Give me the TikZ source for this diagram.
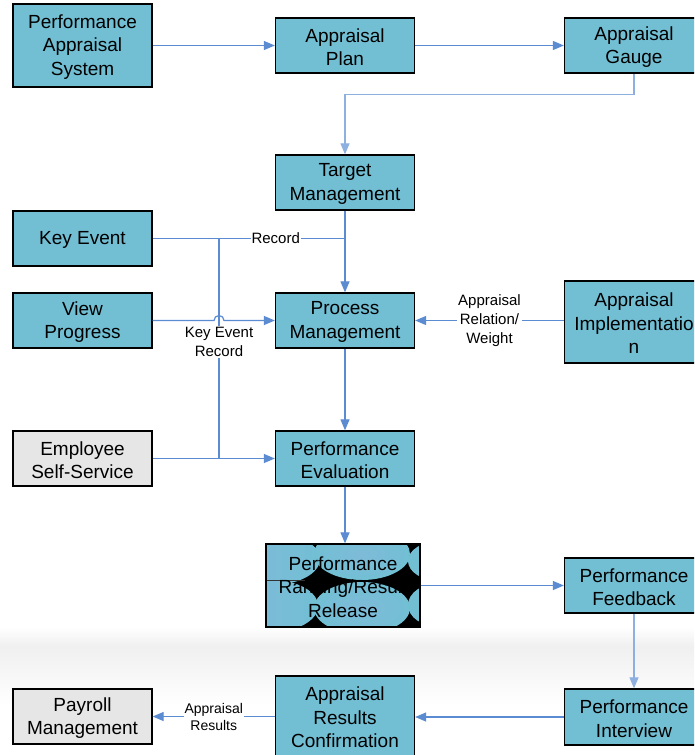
\documentclass[tikz,border=0pt]{standalone}
\usepackage{fontspec}
\setmainfont{Liberation Sans}
\usetikzlibrary{arrows.meta,calc}
\definecolor{boxcyan}{HTML}{72BFD4}
\definecolor{boxlav}{HTML}{95B3E0}
\definecolor{boxgray}{HTML}{E6E6E6}
\definecolor{lineblue}{HTML}{5B8CD1}
\definecolor{lightblue}{HTML}{8DB0E0}
\tikzset{
  box/.style={draw=black, line width=1.3pt, fill=boxcyan, minimum width=139pt, minimum height=55pt,
    inner sep=0pt},
  graybox/.style={box, fill=boxgray},
  boxtxt/.style={align=center, inner sep=0pt, font=\fontsize{19}{23.5}\selectfont, yshift=-1.5pt},
  conn/.style={draw=lineblue, line width=1.2pt},
  arr/.style={conn, -{Triangle[length=11pt,width=9pt]}},
  lbl/.style={fill=white, inner sep=1pt, align=center, font=\fontsize{15}{19}\selectfont},
  lblsmall/.style={lbl, font=\fontsize{14}{17}\selectfont},
}
\begin{document}
\begin{tikzpicture}[x=1pt,y=-1pt]
\useasboundingbox (0,0) rectangle (694,755);
\clip (0,0) rectangle (694,755);
\fill[white] (0,0) rectangle (694,755);
\shade[top color=white, bottom color=gray!12] (0,627) rectangle (694,646);
\shade[top color=gray!12, bottom color=white] (0,646) rectangle (694,705);

% nodes
\node[box, minimum height=83pt, label={[boxtxt]center:{Performance\\Appraisal\\System}}] (pas) at (82.5,45.5) {};
\node[box, label={[boxtxt]center:{Appraisal\\Plan}}] (plan) at (345,45.5) {};
\node[box, label={[boxtxt]center:{Appraisal\\Gauge}}] (gauge) at (634,45.5) {};
\node[box, label={[boxtxt]center:{Target\\Management}}] (tm) at (345,182.5) {};
\node[box, label={[boxtxt]center:{Key Event}}] (ke) at (82.5,238.5) {};
\node[box, label={[boxtxt]center:{View\\Progress}}] (vp) at (82.5,320.5) {};
\node[box, label={[boxtxt]center:{Process\\Management}}] (pm) at (345,320.5) {};
\node[box, minimum height=82pt, label={[boxtxt]center:{Appraisal\\Implementatio\\n}}] (ai) at (634,322) {};
\node[graybox, label={[boxtxt]center:{Employee\\Self-Service}}] (ess) at (82.5,458.5) {};
\node[box, label={[boxtxt]center:{Performance\\Evaluation}}] (pe) at (345,458.5) {};

% glitched ranking node
\fill[black] (266,544) rectangle (420,627);
\begin{scope}
  \clip (266,544) rectangle (420,627);
  \shade[left color=boxlav!45!boxcyan, right color=boxcyan] (272,559) ellipse [x radius=48pt, y radius=26pt];
  \shade[left color=boxlav!45!boxcyan, right color=boxcyan] (272,606) ellipse [x radius=46pt, y radius=26pt];
  \shade[inner color=boxlav!35!boxcyan, outer color=boxcyan] (362,554) ellipse [x radius=48pt, y radius=26pt];
  \shade[inner color=boxlav!35!boxcyan, outer color=boxcyan] (362,608) ellipse [x radius=48pt, y radius=26pt];
  \fill[boxcyan] (440,561) ellipse [x radius=32pt, y radius=20pt];
  \fill[boxcyan] (440,605) ellipse [x radius=32pt, y radius=22pt];
  \draw[black!80, line width=0.8pt] (266,580.5) -- (305,580.5);
\end{scope}
\node[box, fill=none, minimum width=154pt, minimum height=83pt, label={[boxtxt]center:{Performance\\Ranking/Result\\Release}}] (prr) at (343,585.5) {};

\node[box, label={[boxtxt]center:{Performance\\Feedback}}] (pf) at (634,585.5) {};
\node[box, minimum height=56pt, label={[boxtxt]center:{Performance\\Interview}}] (pi) at (634,717) {};
\node[box, minimum height=80pt, label={[boxtxt]center:{Appraisal\\Results\\Confirmation}}] (arc) at (345,716) {};
\node[graybox, label={[boxtxt]center:{Payroll\\Management}}] (pay) at (82.5,716.5) {};

% connectors
\draw[arr] (pas) -- (plan);
\draw[arr] (plan) -- (gauge);
\draw[arr, draw=lightblue] (gauge.south) -- ++(0,21) -| (tm.north);
\draw[arr] (tm) -- (pm);
\coordinate (rec) at (ke.east -| tm.south);
\draw[conn] (ke.east) -- node[lbl, pos=0.64] {Record} (rec);
\coordinate (br1) at (219,238.5);
\coordinate (br2) at (219,458.5);
\draw[arr] (vp.east) -- (214,320.5) arc[start angle=180, end angle=0, radius=5pt] -- (pm.west);
\draw[conn] (br1) -- node[lbl, pos=0.47] {Key Event\\Record} (br2);
\draw[arr] (ess) -- (pe);
\draw[arr] (ai.west |- pm.east) -- node[lbl] {Appraisal\\Relation/\\Weight} (pm.east);
\draw[arr] (pm) -- (pe);
\draw[arr] (pe.south) -- (pe.south |- prr.north);
\draw[arr] (prr) -- (pf);
\draw[arr, draw=lightblue] (pf) -- (pi);
\draw[arr] (pi.west) -- (pi.west -| arc.east);
\draw[arr] (arc.west |- pay.east) -- node[lblsmall] {Appraisal\\Results} (pay.east);
\end{tikzpicture}
\end{document}
